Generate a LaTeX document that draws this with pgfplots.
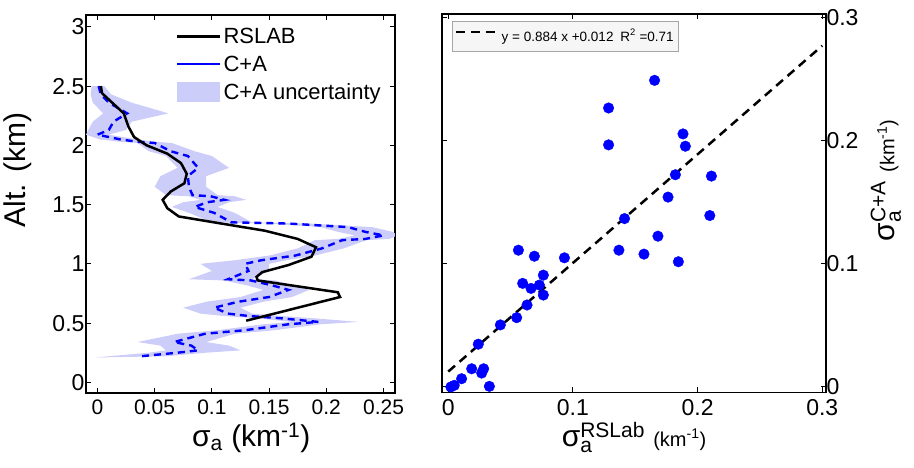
\documentclass[border=0pt]{standalone}
\usepackage{fontspec}
\setmainfont{Liberation Sans}
\usepackage{amsmath}
\usepackage{pgfplots}
\pgfplotsset{compat=1.18}
\definecolor{shade}{RGB}{205,205,250}
\definecolor{myblue}{RGB}{0,0,255}
\pgfplotsset{
  linelegend/.style={legend image code/.code={\draw[##1] (0pt,0pt) -- (43pt,0pt);}},
  boxlegend/.style={legend image code/.code={\fill[##1] (0pt,-10pt) rectangle (43pt,10pt);}},
  dashlegend/.style={legend image code/.code={\draw[##1] (0pt,4pt) -- (42pt,4pt);}},
}
\begin{document}
\begin{tikzpicture}
\useasboundingbox (0,0) rectangle (914pt,468pt);
% ---------------- left panel ----------------
\begin{axis}[
  at={(86pt,75pt)}, anchor=south west, scale only axis,
  width=309pt, height=378pt,
  xmin=-0.01, xmax=0.26, ymin=-0.09, ymax=3.1,
  xtick={0,0.05,0.1,0.15,0.2,0.25},
  xticklabels={0,0.05,0.1,0.15,0.2,0.25},
  ytick={0,0.5,1,1.5,2,2.5,3},
  yticklabels={0,0.5,1,1.5,2,2.5,3},
  tick align=inside, major tick length=5pt,
  xtick pos=both, ytick pos=both,
  axis line style={line width=1.6pt},
  every tick/.style={black, line width=1pt},
  xticklabel style={font=\fontsize{21}{21}\selectfont, yshift=-3pt},
  yticklabel style={font=\fontsize{23}{23}\selectfont, xshift=2pt},
  xlabel={σ\(_{\text{a}}\) (km\(^{\text{-1}}\))},
  ylabel={Alt. (km)},
  xlabel style={font=\fontsize{30}{30}\selectfont, at={(axis description cs:0.535,0)}, anchor=base, yshift=-54pt},
  ylabel style={font=\fontsize{30}{30}\selectfont, at={(axis description cs:-0.165,0.59)}, anchor=south},
  legend cell align=left,
  legend style={draw=none, fill=none, at={(rel axis cs:0.281,0.977)}, anchor=north west,
    font=\fontsize{22}{22}\selectfont, row sep=7pt},
]
\addplot[fill=shade, draw=none, forget plot] coordinates {
(-0.005,2.50) (-0.006,2.43) (-0.004,2.36) (0.005,2.27) (-0.004,2.20) (-0.008,2.13) (-0.010,2.09) (0.002,2.05) (0.020,2.03) (0.035,2.02) (0.045,1.95) (0.060,1.91) (0.070,1.81) (0.055,1.74) (0.050,1.65) (0.060,1.58) (0.080,1.57) (0.090,1.54) (0.075,1.52) (0.065,1.48) (0.080,1.43) (0.100,1.35) (0.150,1.34) (0.195,1.31) (0.210,1.27) (0.225,1.24) (0.210,1.21) (0.190,1.20) (0.175,1.13) (0.150,1.07) (0.120,1.03) (0.090,1.00) (0.100,0.94) (0.080,0.87) (0.110,0.86) (0.130,0.82) (0.145,0.78) (0.125,0.72) (0.095,0.68) (0.075,0.63) (0.090,0.58) (0.110,0.56) (0.140,0.54) (0.170,0.51) (0.145,0.49) (0.105,0.44) (0.070,0.41) (0.035,0.34) (0.055,0.31) (0.060,0.27) (0.045,0.25) (-0.002,0.21)
(0.060,0.22) (0.095,0.25) (0.125,0.27) (0.115,0.31) (0.095,0.34) (0.120,0.41) (0.155,0.44) (0.195,0.49) (0.228,0.51) (0.190,0.54) (0.160,0.56) (0.135,0.58) (0.125,0.63) (0.145,0.68) (0.170,0.72) (0.185,0.78) (0.170,0.82) (0.155,0.86) (0.135,0.87) (0.150,0.94) (0.150,1.00) (0.165,1.03) (0.190,1.07) (0.215,1.13) (0.235,1.20) (0.255,1.21) (0.262,1.24) (0.258,1.27) (0.240,1.31) (0.185,1.34) (0.135,1.35) (0.120,1.43) (0.105,1.48) (0.115,1.52) (0.130,1.54) (0.120,1.57) (0.105,1.58) (0.095,1.65) (0.095,1.74) (0.115,1.81) (0.100,1.91) (0.085,1.95) (0.065,2.02) (0.050,2.03) (0.035,2.05) (0.010,2.09) (0.025,2.13) (0.030,2.20) (0.062,2.27) (0.030,2.36) (0.012,2.43) (0.006,2.50)
} -- cycle;
\addplot[myblue, line width=2.4pt, dash pattern=on 7pt off 5pt, forget plot] coordinates {
(0.001,2.50) (0.003,2.43) (0.010,2.36) (0.026,2.27) (0.014,2.20) (0.010,2.13) (0.000,2.09) (0.020,2.05) (0.035,2.03) (0.050,2.02) (0.064,1.95) (0.079,1.91) (0.088,1.81) (0.079,1.74) (0.080,1.65) (0.083,1.58) (0.099,1.57) (0.111,1.54) (0.096,1.52) (0.085,1.48) (0.102,1.43) (0.117,1.35) (0.167,1.34) (0.219,1.31) (0.234,1.27) (0.250,1.24) (0.234,1.21) (0.214,1.20) (0.196,1.13) (0.173,1.07) (0.143,1.03) (0.129,1.00) (0.132,0.94) (0.114,0.87) (0.134,0.86) (0.152,0.82) (0.167,0.78) (0.150,0.72) (0.123,0.68) (0.102,0.63) (0.114,0.58) (0.132,0.56) (0.161,0.54) (0.193,0.51) (0.167,0.49) (0.129,0.44) (0.094,0.41) (0.067,0.34) (0.082,0.31) (0.088,0.27) (0.070,0.25) (0.038,0.22)
};
\addplot[black, line width=2.5pt, forget plot] coordinates {
(0.003,2.50) (0.004,2.44) (0.014,2.35) (0.023,2.27) (0.027,2.16) (0.032,2.07) (0.043,2.00) (0.061,1.93) (0.073,1.85) (0.078,1.76) (0.076,1.68) (0.064,1.61) (0.057,1.54) (0.061,1.47) (0.071,1.40) (0.102,1.35) (0.146,1.28) (0.175,1.21) (0.191,1.14) (0.187,1.06) (0.167,0.99) (0.144,0.93) (0.139,0.89) (0.140,0.86) (0.210,0.76) (0.212,0.72) (0.130,0.52)
};
\addlegendimage{black, line width=2.5pt, linelegend}
\addlegendentry{RSLAB}
\addlegendimage{myblue, line width=1.4pt, linelegend}
\addlegendentry{C+A}
\addlegendimage{fill=shade, draw=none, boxlegend}
\addlegendentry{C+A uncertainty}
\end{axis}
% ---------------- right panel ----------------
\begin{axis}[
  at={(442pt,75.5pt)}, anchor=south west, scale only axis,
  width=384pt, height=378.5pt,
  xmin=-0.005, xmax=0.303, ymin=-0.005, ymax=0.303,
  xtick={0,0.1,0.2,0.3}, xticklabels={0,0.1,0.2,0.3},
  ytick={0,0.1,0.2,0.3}, yticklabels={0,0.1,0.2,0.3},
  tick align=inside, major tick length=5pt,
  xtick pos=both, ytick pos=both, yticklabel pos=right,
  axis line style={line width=1.6pt},
  every tick/.style={black, line width=1pt},
  xticklabel style={font=\fontsize{23}{23}\selectfont, yshift=-3pt},
  yticklabel style={font=\fontsize{23}{23}\selectfont, xshift=-3pt},
  xlabel={σ\(_{\text{a}}^{\text{RSLab}}\) {\fontsize{20}{20}\selectfont(km\(^{\text{-1}}\))}},
  ylabel={σ\(_{\text{a}}^{\text{C+A}}\) {\fontsize{20}{20}\selectfont(km\(^{\text{-1}}\))}},
  xlabel style={font=\fontsize{30}{30}\selectfont, at={(axis description cs:0.5,0)}, anchor=base, yshift=-54pt},
  ylabel style={font=\fontsize{30}{30}\selectfont, at={(axis description cs:1.107,0.56)}, anchor=north},
  legend style={draw=gray!70, fill=gray!7, at={(rel axis cs:0.026,0.981)}, anchor=north west,
    font=\fontsize{13.5}{13.5}\selectfont, cells={anchor=west}, inner xsep=3pt, inner ysep=6pt},
]
\addplot[myblue, only marks, mark=*, mark size=5.3pt, forget plot] coordinates {
(0.1655,0.249) (0.1286,0.2265) (0.1286,0.1965) (0.1883,0.2054) (0.1902,0.1954)
(0.1822,0.1722) (0.2111,0.1711) (0.1763,0.154) (0.2098,0.139) (0.1414,0.1365)
(0.1682,0.1222) (0.1369,0.1108) (0.157,0.1076) (0.1846,0.1014) (0.0563,0.1108)
(0.0691,0.1059) (0.0932,0.1046) (0.0597,0.0838) (0.0664,0.0797) (0.0731,0.0824)
(0.0763,0.0905) (0.0763,0.0743) (0.0632,0.0662) (0.0549,0.0559) (0.0418,0.050)
(0.0241,0.0343) (0.0188,0.0143) (0.0284,0.0143) (0.0268,0.0108) (0.0107,0.0062)
(0.0048,0.0008) (0.0021,-0.0005) (0.033,0.000)
};
\addplot[black, line width=2.5pt, dash pattern=on 9pt off 6pt, dashlegend] coordinates {(0,0.012) (0.3,0.2772)};
\addlegendentry{y = 0.884 x +0.012\enspace R\textsuperscript{2} =0.71}
\end{axis}
\end{tikzpicture}
\end{document}
